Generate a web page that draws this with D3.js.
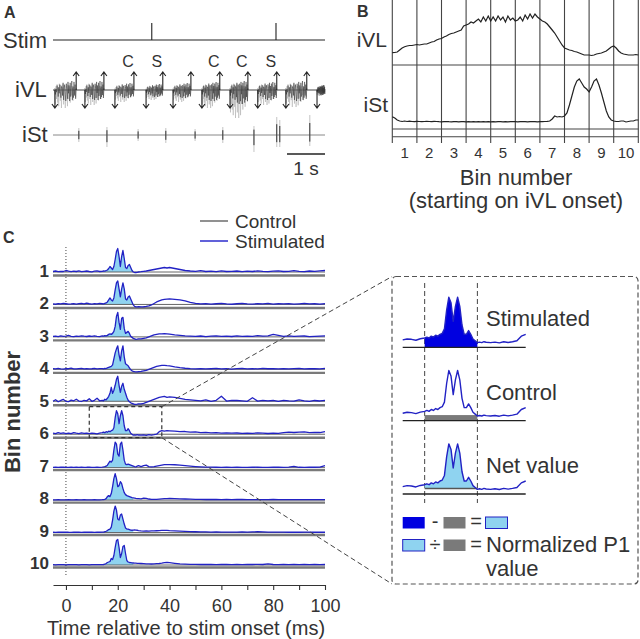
<!DOCTYPE html>
<html><head><meta charset="utf-8">
<script src="https://cdn.jsdelivr.net/npm/d3@7"></script>
<style>
body{margin:0;background:#fff}
svg{display:block}
text{font-family:"Liberation Sans",Arial,Helvetica,sans-serif;fill:#333}
</style>
</head><body>
<svg id="c" width="640" height="639"></svg>
<script>
// ---------------- DATA ----------------
// Panel A (times in s)
const traceEnd = 7.16;
const stimPulses = [2.6, 5.87];
const burstStart = [0.05, 0.84, 1.63, 2.45, 3.16, 3.92, 4.66, 5.39, 6.13, 6.95];
const burstEnd   = [0.61, 1.34, 2.13, 2.89, 3.63, 4.39, 5.13, 5.89, 6.68, 7.16];
const burstUp    = [9, 9, 7, 6, 7, 8, 9, 8, 9, 5];
const burstDown  = [11, 10, 8, 7, 8, 11, 14, 10, 11, 5];
const burstTail  = [18, 15, 12, 10, 12, 18, 28, 15, 17, 6];
const burstTexture = [0.2,-0.4,0.1,-0.2,0.5,0.1,-0.6,0.3,-0.3,0.6,-0.1,-0.7,0.4,0.2,-0.5,0.8,-0.9,0.3,0.6,-0.4,
                      -1,0.7,0.2,-0.8,0.9,-0.3,0.5,-1,0.8,-0.6,0.3,1,-0.9,0.4,-0.7,0.9,-0.5,0.6,-0.8,0.2];
const upArrows   = [0.61, 1.34, 2.13, 2.89, 3.63, 4.39, 5.13, 5.89, 6.68];
const downArrows = [0.05, 0.84, 1.63, 2.45, 3.16, 3.92, 4.66, 5.39, 6.13, 6.95];
const cycleBurst = [2, 3, 5, 6, 7];
const cycleText  = ["C", "S", "C", "C", "S"];
const istTimes = [0.68, 1.42, 2.24, 2.97, 3.74, 4.47, 5.29, 5.89, 5.97, 6.76];
const istUp    = [7, 8, 6, 7, 6, 8, 9, 18, 15, 20];
const istDown  = [7, 12, 6, 8, 6, 8, 17, 12, 12, 11];

// Panel B (sampled every 0.1 bin)
const binStep = 0.1;
const binLabels = ["1","2","3","4","5","6","7","8","9","10"];
const iVLrate = [12.3,12.5,13,15,17,18.3,19,19.5,19.5,20,
  20.5,20,20.5,21,21,22,23,23.5,25,26,
  26.5,28,29,30.5,31.5,32,33,34,35,39,
  40,41,43,42,44,46,43,48,44,49,
  44,48,44,49,45,48,43,49,45,47,
  44,45,48,44,50,46,51,47,51,48,
  46,44,43,41,38,35,32,28,24,20,
  17,16,15,14.5,13.5,13,12,11,10,10,
  10,9.5,10,11,11.5,12,13,14,16,18,
  19,17,14,12,11,10.5,10,10,10,10.5,
  10];
const iStRate = [12.3,11,9,8,7.5,8,7.5,7.8,7.5,7.4,
  7.6,7.5,7.3,7.5,7.7,7.5,7.4,7.6,7.5,7.3,
  7.2,7.4,7.5,7.3,7.2,7.4,7.3,7.2,7.4,7.3,
  7.2,7.3,7.2,7.4,7.2,7.3,7.2,7.3,7.2,7.3,
  7.2,7.3,7.2,7.3,7.4,7.2,7.3,7.2,7.3,7.4,
  7.3,7.2,7.3,7.4,7.3,7.2,7.3,7.4,7.3,7.2,
  7.3,7.4,7.5,7.6,8,10,13,12,12.5,12,
  13,16,24,33,42,48,50,46,42,40,
  37,42,48,50,44,36,27,18,12,9,
  8,7.5,7.5,8,8,7,7.5,8,8,9,
  9];

// Panel C (time in ms)
const timeMs = [-5,-4,-3,-2,-1,0,1,2,3,4,5,6,7,8,9,10,11,12,13,
  14,14.5,15,15.5,16,16.5,17,17.5,18,18.5,19,19.5,20,20.5,21,21.5,22,22.5,23,23.5,24,24.5,25,25.5,26,26.5,27,27.5,28,
  29,30,31,32,33,34,35,36,37,38,39,40,
  42,44,46,48,50,52,54,56,58,60,62,64,66,68,70,72,74,76,78,80,82,84,86,88,90,92,94,96,98,100];
const bins = [1,2,3,4,5,6,7,8,9,10];
const stimulated = [
 [4,4.5,3.8,4.2,4,5,4.3,3.9,4.4,4,4.6,3.8,4.2,4.5,4,3.7,4.3,4.6,4,
  4.2,4.5,4.3,5,5.5,7,9,7.5,6,9,16,24,27,19,9,19,25,17,8,7,10,11,8,5,3.5,3,3,3.2,3.5,
  3.8,4.2,4.5,5,5.5,6,6.5,7,7.5,8,7.5,8,
  7,6,5,4.5,4.2,4.8,4,4.3,3.8,4.6,4,4.2,4.5,3.9,4.4,4,4.7,4.1,3.8,4.3,4.6,4,4.2,4.8,4.1,3.9,4.5,4.2,4.6,5],
 [4,3.7,4.3,4,4.6,4.2,3.8,4,4.4,3.9,4.3,4.5,4,4.8,4.2,3.9,4.3,4,4.5,
  4.2,4,4.5,5,6,8,10,8,7,10,18,25,27,19,11,19,25,19,9,8,11,12,9,6,3,1.5,1,1,1.2,
  1,1.2,1.5,2,3,4.5,6,7,8,8.5,8.8,9,
  8.5,8,7,5.5,4.5,4,4.3,3.8,4.2,4.5,4,3.7,4.2,4.6,4,3.8,4.3,4.1,4.5,3.9,4.2,4,4.4,3.8,4.1,4.5,4,4.2,3.9,4.3],
 [4,4.3,3.8,4.5,4,4.2,5,4.1,3.7,4.3,4,4.6,4.2,3.9,4.4,4,4.5,4.1,3.8,
  4.5,4.2,4.8,4.5,5,6,6.5,6,7,9,14,24,28,18,11,22,23,12,7,8,9,7,4,3,2,1.5,1,1.2,1.5,
  1.5,2,2.5,3.5,4.5,5.5,6,6.5,6.5,6.8,6.5,6.2,
  5.5,5,4.5,4.2,4,4.4,3.8,4.2,4.5,4,4.3,3.9,4.6,4.1,4.3,4,4.8,4.2,4.5,6,5,4.1,4.5,4,4.2,4.4,3.8,4.1,4.3,4.5],
 [4.2,4,4.5,4,3.8,4.3,4.1,4.6,4,3.9,4.2,4.5,4,4.3,3.9,4.1,4.4,4,4.2,
  4.3,4,4.5,4.3,5,5.5,6,6.5,8,14,20,24,27,18,12,22,27,16,9,8,7,5,3,2,1.5,1.2,1,1,1.2,
  1.5,2,2.5,3.5,4.5,5.5,6.5,7,7.5,7.5,7.2,7,
  6,5.2,4.6,4.2,4,4.3,3.9,4.1,4.4,4,4.2,3.8,4.3,4.5,4,4.2,3.9,4.4,4.1,4.2,4,4.3,3.9,4.2,4.5,4,4.1,4.3,4,4.4],
 [4,5.5,3.5,4.8,5.8,4,3.6,5.2,4.5,6,4.2,3.8,5,4.4,6.5,4,5,7,4.5,
  5,4.5,6,5.5,7,9,12,18,12,15,20,26,29,20,13,19,22,16,12,8,5,3.5,2.5,2,1.5,1,1,1.2,1.5,
  1.5,2,3,4,5,6,7,8,8.5,9,8,8.5,
  8,7,6,5.5,5,4.5,5.5,4,5,9,4.2,5,4.8,4.5,4,7.5,4.2,5,4.5,4.8,4,5,4.4,4.2,5.3,4.5,4,4.8,4.3,5],
 [4.5,4,5,4.3,4.8,4.2,4.6,4,5,4.5,4.2,4.8,4.4,4.6,4,4.5,4.3,3.8,4.6,
  5,5.5,5,6,5.5,6.5,6,7,7.5,10,20,27,24,14,22,27,22,12,7,7,9,7,4.5,3.5,2.5,2.8,2.5,3,2.7,
  2.5,2.8,2.4,3,2.6,3,3.5,6,7,6.5,7,6.8,
  6.5,6,6.2,5.5,5.8,5,5.3,4.8,5,4.6,4.8,4.5,4.7,4.3,4.6,4.4,4.8,4.5,4.2,4.6,4.4,5,5.5,5.2,5.6,5.8,5,5.4,5.2,6],
 [2.8,3,2.7,2.9,3.1,2.8,2.7,3,2.8,2.9,2.7,3,2.8,2.9,3.1,2.8,2.7,3,2.8,
  3,3.2,3.5,4,5,7,9,8,10,20,28,26,16,14,26,28,20,10,6,5.5,6,5.5,5,4.5,4,3.5,3.2,4,4.5,
  3.5,4.5,5,3.5,3.2,3.5,4,4.5,5,5.5,5.5,5.6,
  5.4,5,4.5,4,3.6,3.3,3.1,3,2.9,2.8,3,2.8,2.9,2.7,2.8,3,2.9,2.8,2.7,2.9,3.1,2.8,3,3.8,2.9,2.8,3.1,2.9,3,4.5],
 [2.8,2.7,2.9,2.8,2.8,2.7,2.9,2.8,2.8,2.9,2.7,2.8,2.9,2.8,2.7,2.8,2.9,2.8,2.8,
  2.9,3,3.3,4,6,7,6,9,16,24,29,24,16,17,21,19,14,10,8,7,6.5,6,5.5,5,4.8,4.5,4.2,4,4,
  3.8,4.5,4.2,3.6,3.3,3.2,3.3,3.5,3.7,3.9,4,4.1,
  4,3.8,3.6,3.4,3.3,3.2,3.1,3.2,3.1,3,3.1,3,3.2,3.1,3,2.9,3,2.9,3,3.1,2.9,3,2.9,3,2.9,3,2.9,3,2.9,3],
 [2.8,2.7,2.9,2.8,2.8,3,2.8,2.7,2.8,2.9,2.8,2.7,2.8,2.9,2.8,2.8,2.7,2.9,2.8,
  2.9,3,3.3,3.8,4.5,5.5,6,8,15,24,29,25,16,15,20,21,16,11,7,6,6,5.5,5,4.8,5,5.2,5,4.8,4.5,
  4.2,4,4.1,4,4.2,4.1,4.3,4.5,4.6,4.7,4.6,4.4,
  4.2,4,3.7,3.5,3.3,3.2,3.1,3,3.1,3,2.9,3,2.9,3.1,3,3.2,3.3,3.1,3,2.9,3,2.9,2.8,2.9,2.8,2.9,3,2.8,2.9,2.8],
 [2.8,2.7,2.9,2.8,2.8,2.7,2.8,2.9,2.8,2.8,2.7,2.9,2.8,2.8,2.7,2.8,2.9,2.8,2.8,
  2.9,3,3.3,4,5,5.5,6,9,8,12,20,27,28,20,10,14,21,22,14,7,5.5,5,4.8,4.6,4.5,4.4,4.3,4.2,4.1,
  4,3.9,3.7,3.6,3.5,3.6,3.8,4,4.3,4.8,5,4.8,
  4.2,3.7,3.4,3.2,3.1,3,3.1,3,2.9,3,3.1,2.9,3,2.9,3.1,3,3.2,3,3.6,3,2.9,3,2.9,3.1,2.9,3,2.9,3,2.9,3]
];
const controlLevel = [3.5, 3.5, 3.5, 3.5, 4, 3.5, 2.5, 2.5, 2.5, 2.5];
const p1Window = [14, 26];
const zoomBin = 6;
const zoomWindow = [9, 37];
const insetNames = ["Stimulated", "Control", "Net value"];
const insetControl = 3;
const xTicks = [0,10,20,30,40,50,60,70,80,90,100];
const xTickLabels = [0,20,40,60,80,100];

// ---------------- DRAW ----------------
const svg = d3.select("#c");
const BLUE = "#2222c4", LIGHT = "#8fd3f0", DARKBLUE = "#0000e0", GREY = "#7a7a7a";
function label(g, x, y, s, size, anchor, weight) {
  return g.append("text").attr("x", x).attr("y", y).attr("font-size", size)
    .attr("text-anchor", anchor || "start").attr("font-weight", weight || "normal").text(s);
}

// ===== Panel A =====
const gA = svg.append("g");
label(gA, 4, 18, "A", 16, "start", "bold");
const xA = d3.scaleLinear().domain([0, traceEnd]).range([53, 325]);
const yStim = d3.scaleLinear().domain([0, 1]).range([40, 23]);
const stimPts = [[0, 0]];
stimPulses.forEach(p => stimPts.push([p, 0], [p, 1], [p, 0]));
stimPts.push([traceEnd, 0]);
gA.append("path").attr("d", d3.line().x(d => xA(d[0])).y(d => yStim(d[1]))(stimPts))
  .attr("fill", "none").attr("stroke", "#222").attr("stroke-width", 1.1);
label(gA, 3, 48, "Stim", 22);

const yV = d3.scaleLinear().domain([-30, 30]).range([120, 60]);
gA.append("line").attr("x1", xA(0)).attr("x2", xA(traceEnd)).attr("y1", yV(0)).attr("y2", yV(0))
  .attr("stroke", "#444").attr("stroke-width", 1);
const n = burstTexture.length;
const lnA = d3.line().x(d => xA(d[0])).y(d => yV(d[1]));
burstStart.forEach((s, i) => {
  const e = burstEnd[i];
  const grey = burstTexture.slice().reverse().map((v, k) => [s + (e - s) * k / (n - 1), v > 0 ? v * burstUp[i] * 0.7 : v * burstTail[i]]);
  const dark = burstTexture.map((v, k) => [s + (e - s) * k / (n - 1), v > 0 ? v * burstUp[i] : v * burstDown[i]]);
  gA.append("path").attr("d", lnA(grey)).attr("fill", "none").attr("stroke", "#aaa").attr("stroke-width", 0.5);
  gA.append("path").attr("d", lnA(dark)).attr("fill", "none").attr("stroke", "#333").attr("stroke-width", 0.5);
});
function arrow(g, x, y0, y1) {
  const dir = y1 < y0 ? 1 : -1;
  g.append("path").attr("d", `M${x},${y0}L${x},${y1}M${x - 3},${y1 + 4 * dir}L${x},${y1}L${x + 3},${y1 + 4 * dir}`)
    .attr("fill", "none").attr("stroke", "#222").attr("stroke-width", 1.1);
}
upArrows.forEach(t => arrow(gA, xA(t), yV(0), yV(18)));
downArrows.forEach(t => arrow(gA, xA(t), yV(0), yV(-18)));
cycleBurst.forEach((b, i) => label(gA, xA(burstEnd[b]) - 6, 67, cycleText[i], 16, "middle"));
label(gA, 15, 97, "iVL", 22);

const yS = d3.scaleLinear().domain([-30, 30]).range([165, 105]);
gA.append("line").attr("x1", xA(0)).attr("x2", xA(traceEnd)).attr("y1", yS(0)).attr("y2", yS(0))
  .attr("stroke", "#888").attr("stroke-width", 1);
istTimes.forEach((t, i) => {
  gA.append("line").attr("x1", xA(t)).attr("x2", xA(t)).attr("y1", yS(istUp[i])).attr("y2", yS(-istDown[i]))
    .attr("stroke", "#aaa").attr("stroke-width", 0.7);
  gA.append("line").attr("x1", xA(t)).attr("x2", xA(t)).attr("y1", yS(istUp[i] * 0.6)).attr("y2", yS(-istDown[i] * 0.6))
    .attr("stroke", "#333").attr("stroke-width", 1);
});
label(gA, 22, 142, "iSt", 22);
gA.append("line").attr("x1", xA(traceEnd - 1)).attr("x2", xA(traceEnd)).attr("y1", 154).attr("y2", 154)
  .attr("stroke", "#222").attr("stroke-width", 1.5);
label(gA, xA(traceEnd - 0.5), 175, "1 s", 19, "middle");

// ===== Panel B =====
const gB = svg.append("g");
label(gB, 357, 17, "B", 16, "start", "bold");
const xB = d3.scaleLinear().domain([0, 10]).range([392.3, 638.3]);
const yIVL = d3.scaleLinear().domain([0, 50]).range([65, 15]);
const yIST = d3.scaleLinear().domain([0, 50]).range([129, 79]);
d3.range(0, 11).forEach(k => gB.append("line").attr("x1", xB(k)).attr("x2", xB(k)).attr("y1", 0).attr("y2", 143)
  .attr("stroke", "#444").attr("stroke-width", 1.1));
[yIVL(0), yIST(0), 136.7].forEach(y => gB.append("line").attr("x1", xB(0)).attr("x2", xB(10)).attr("y1", y).attr("y2", y)
  .attr("stroke", "#444").attr("stroke-width", 1.1));
gB.append("path").attr("d", d3.line().x((d, i) => xB(i * binStep)).y(d => yIVL(d))(iVLrate))
  .attr("fill", "none").attr("stroke", "#222").attr("stroke-width", 1.2);
gB.append("path").attr("d", d3.line().x((d, i) => xB(i * binStep)).y(d => yIST(d))(iStRate))
  .attr("fill", "none").attr("stroke", "#222").attr("stroke-width", 1.2);
label(gB, 387, 47, "iVL", 21, "end");
label(gB, 388, 112, "iSt", 21, "end");
binLabels.forEach((s, i) => label(gB, xB(i + 0.5), 158, s, 15, "middle"));
label(gB, 516, 185, "Bin number", 22, "middle");
label(gB, 516, 208, "(starting on iVL onset)", 22, "middle");

// ===== Panel C =====
const gC = svg.append("g");
label(gC, 3, 243, "C", 16, "start", "bold");
const xC = d3.scaleLinear().domain([-5, 100]).range([53, 325]);
const rowY = d3.scalePoint().domain(bins).range([275.5, 567.5]);
const rowScale = b => d3.scaleLinear().domain([0, 30]).range([rowY(b), rowY(b) - 30]);

gC.append("line").attr("x1", xC(0)).attr("x2", xC(0)).attr("y1", 247).attr("y2", 577)
  .attr("stroke", "#444").attr("stroke-width", 1).attr("stroke-dasharray", "1,2");

gC.append("line").attr("x1", 200).attr("x2", 228).attr("y1", 221).attr("y2", 221).attr("stroke", "#555").attr("stroke-width", 1.3);
gC.append("line").attr("x1", 200).attr("x2", 228).attr("y1", 241).attr("y2", 241).attr("stroke", "#3a3ad0").attr("stroke-width", 1.6);
label(gC, 235, 228, "Control", 19);
label(gC, 235, 248, "Stimulated", 19);

bins.forEach((b, r) => {
  const y = rowScale(b);
  const vals = stimulated[r];
  const pts = timeMs.map((t, i) => [t, vals[i]]);
  const c = controlLevel[r];
  const g = gC.append("g");
  const win = pts.filter(d => d[0] >= p1Window[0] && d[0] <= p1Window[1]);
  g.append("path").attr("d", d3.area().x(d => xC(d[0])).y0(y(c)).y1(d => y(Math.max(d[1], c)))(win))
    .attr("fill", LIGHT);
  g.append("line").attr("x1", xC(-5)).attr("x2", xC(100)).attr("y1", y(0)).attr("y2", y(0))
    .attr("stroke", GREY).attr("stroke-width", 2.4);
  g.append("line").attr("x1", xC(-5)).attr("x2", xC(100)).attr("y1", y(c)).attr("y2", y(c))
    .attr("stroke", "#555").attr("stroke-width", 0.9);
  g.append("path").attr("d", d3.line().x(d => xC(d[0])).y(d => y(d[1]))(pts))
    .attr("fill", "none").attr("stroke", BLUE).attr("stroke-width", 1.3).attr("stroke-linejoin", "round");
  label(g, 49, rowY(b) + 1.5, String(b), 17, "end", "bold");
});

const axis = gC.append("g").attr("transform", "translate(0,585)")
  .call(d3.axisBottom(xC).tickValues(xTicks).tickFormat(d => String(d)).tickSize(5).tickSizeOuter(0).tickPadding(9));
axis.select(".domain").attr("stroke", "#333").attr("stroke-width", 1.2);
axis.selectAll(".tick line").attr("stroke", "#333").attr("stroke-width", 1.1);
axis.selectAll(".tick text").filter(d => !xTickLabels.includes(d)).remove();
axis.selectAll(".tick text").attr("font-size", 18).attr("fill", "#333").attr("font-family", "Liberation Sans, Arial, sans-serif");
label(gC, 186, 635, "Time relative to stim onset (ms)", 20, "middle");
gC.append("text").attr("transform", "translate(20,412) rotate(-90)").attr("text-anchor", "middle")
  .attr("font-size", 22).attr("font-weight", "bold").text("Bin number");

const y6 = rowScale(zoomBin);
const zx0 = xC(zoomWindow[0]), zx1 = xC(zoomWindow[1]), zyT = y6(31), zyB = y6(0);
gC.append("rect").attr("x", zx0).attr("y", zyT).attr("width", zx1 - zx0).attr("height", zyB - zyT)
  .attr("fill", "none").attr("stroke", "#333").attr("stroke-width", 1.2).attr("stroke-dasharray", "4,3");
const box = {x: 392, y: 276.5, w: 246, h: 307.5};
gC.append("line").attr("x1", zx1).attr("y1", zyT).attr("x2", box.x).attr("y2", box.y)
  .attr("stroke", "#444").attr("stroke-width", 1).attr("stroke-dasharray", "5,3");
gC.append("line").attr("x1", zx1).attr("y1", zyB).attr("x2", box.x).attr("y2", box.y + box.h)
  .attr("stroke", "#444").attr("stroke-width", 1).attr("stroke-dasharray", "5,3");
gC.append("rect").attr("x", box.x).attr("y", box.y).attr("width", box.w).attr("height", box.h).attr("rx", 4)
  .attr("fill", "none").attr("stroke", "#555").attr("stroke-width", 1.2).attr("stroke-dasharray", "5,3");

// inset
const gI = svg.append("g");
const xI = d3.scaleLinear().domain(zoomWindow).range([402.7, 525.7]);
const baseI = d3.scalePoint().domain(insetNames).range([347.3, 494]);
const yIn = name => d3.scaleLinear().domain([0, 28]).range([baseI(name), baseI(name) - 52]);
const insetPts = timeMs.map((t, i) => [t, stimulated[zoomBin - 1][i]]).filter(d => d[0] >= zoomWindow[0] && d[0] <= zoomWindow[1]);
const insetWin = insetPts.filter(d => d[0] >= p1Window[0] && d[0] <= p1Window[1]);
p1Window.forEach(t => gI.append("line").attr("x1", xI(t)).attr("x2", xI(t)).attr("y1", 283).attr("y2", 503)
  .attr("stroke", "#444").attr("stroke-width", 1).attr("stroke-dasharray", "5,3"));
insetNames.forEach((name, k) => {
  const y = yIn(name);
  if (k === 0) {
    gI.append("path").attr("d", d3.area().x(d => xI(d[0])).y0(y(0)).y1(d => y(d[1]))(insetWin)).attr("fill", DARKBLUE);
  } else if (k === 1) {
    gI.append("rect").attr("x", xI(p1Window[0])).attr("width", xI(p1Window[1]) - xI(p1Window[0]))
      .attr("y", y(insetControl)).attr("height", y(0) - y(insetControl)).attr("fill", GREY);
  } else {
    gI.append("path").attr("d", d3.area().x(d => xI(d[0])).y0(y(insetControl)).y1(d => y(Math.max(d[1], insetControl)))(insetWin)).attr("fill", LIGHT);
    gI.append("line").attr("x1", xI(p1Window[0])).attr("x2", xI(p1Window[1])).attr("y1", y(insetControl)).attr("y2", y(insetControl))
      .attr("stroke", "#555").attr("stroke-width", 1.5);
  }
  gI.append("line").attr("x1", xI(zoomWindow[0])).attr("x2", xI(zoomWindow[1])).attr("y1", y(0)).attr("y2", y(0))
    .attr("stroke", "#222").attr("stroke-width", 1.3);
  gI.append("path").attr("d", d3.line().x(d => xI(d[0])).y(d => y(d[1]))(insetPts))
    .attr("fill", "none").attr("stroke", BLUE).attr("stroke-width", 1.4).attr("stroke-linejoin", "round");
  label(gI, 486, baseI(name) - 21, name, 22);
});
function sw(x, y, fill, stroke) {
  gI.append("rect").attr("x", x).attr("y", y).attr("width", 22).attr("height", 11.5).attr("fill", fill)
    .attr("stroke", stroke || "none").attr("stroke-width", 1);
}
sw(402.7, 517, DARKBLUE);
label(gI, 435, 528, "-", 20, "middle");
sw(443.5, 517, GREY);
label(gI, 476, 528, "=", 20, "middle");
sw(485.5, 517, LIGHT, BLUE);
sw(402.7, 539.5, LIGHT, BLUE);
label(gI, 435, 551, "÷", 20, "middle");
sw(443.5, 539.5, GREY);
label(gI, 476, 551, "=", 20, "middle");
label(gI, 486, 552, "Normalized P1", 22);
label(gI, 486, 576, "value", 22);
</script>
</body></html>
